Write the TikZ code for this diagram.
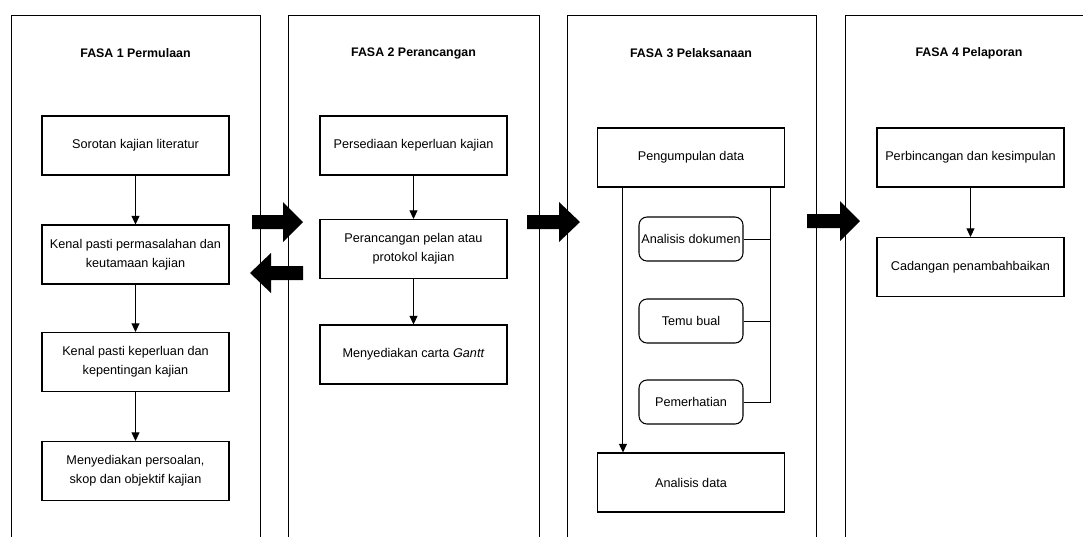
\documentclass[tikz,border=0pt]{standalone}
\usepackage{fontspec}
\setmainfont{Liberation Sans}
\usetikzlibrary{arrows.meta, positioning}

\begin{document}
\begin{tikzpicture}[x=0.75pt, y=-0.75pt, line width=0.75pt,
		>={Triangle[length=6.5pt,width=6pt]},
		every node/.style={font=\fontsize{9.5}{14}\selectfont},
		box/.style={draw, line width=0.8pt, minimum width=140.25pt, minimum height=44.25pt, align=center, inner sep=2pt},
		rbox/.style={draw, line width=0.8pt, rounded corners=6pt, minimum width=78pt, minimum height=33pt, inner sep=1pt},
		fasa/.style={font=\bfseries\fontsize{9.3}{11}\selectfont}]
		\useasboundingbox (0,0) rectangle (1083,537);
		
		% lajur fasa
		\draw (11,537) -- (11,15) -- (260,15) -- (260,537);
		\draw (288,537) -- (288,15) -- (539,15) -- (539,537);
		\draw (567,537) -- (567,15) -- (816,15) -- (816,537);
		\draw (845,537) -- (845,15) -- (1083,15);
		
		\draw (135.5,53) node[fasa] (f1) {FASA 1 Permulaan}
		(135.5,145.5) node[box] (m1) {Sorotan kajian literatur}
		(135.5,254.5) node[box] (m2) {Kenal pasti permasalahan dan\\keutamaan kajian}
		(135.5,362) node[box] (m3) {Kenal pasti keperluan dan\\kepentingan kajian}
		(135.5,471) node[box] (m4) {Menyediakan persoalan,\\skop dan objektif kajian};
		
		\draw (413.5,53) node[fasa] (f2) {FASA 2 Perancangan}
		(413.5,145.5) node[box] (r1) {Persediaan keperluan kajian}
		(413.5,249) node[box] (r2) {Perancangan pelan atau\\protokol kajian}
		(413.5,354.5) node[box] (r3) {Menyediakan carta \textit{Gantt}};
		
		\draw (691,53) node[fasa] (f3) {FASA 3 Pelaksanaan}
		(691,157.5) node[box] (l1) {Pengumpulan data}
		(691,239) node[rbox] (l2) {Analisis dokumen}
		(691,321) node[rbox] (l3) {Temu bual}
		(691,402) node[rbox] (l4) {Pemerhatian}
		(691,482.5) node[box] (l5) {Analisis data};
		
		\draw (969,53) node[fasa] (f4) {FASA 4 Pelaporan}
		(970.5,157.5) node[box] (p1) {Perbincangan dan kesimpulan}
		(970.5,267) node[box] (p2) {Cadangan penambahbaikan};
		
		\draw[->] (m1) -- (m2);
		\draw[->] (m2) -- (m3);
		\draw[->] (m3) -- (m4);
		\draw[->] (r1) -- (r2);
		\draw[->] (r2) -- (r3);
		\draw[->] (p1) -- (p2);
		
		\coordinate (bus) at (770,187);
		\draw (l1.south -| bus) |- (l4);
		\draw (l2) -- (l2 -| bus);
		\draw (l3) -- (l3 -| bus);
		\draw[->] ([xshift=19.5pt]l1.south west) -- ([xshift=19.5pt]l5.north west);
		
		% anak panah blok
		\fill (252,215) -- (283,215) -- (283,202) -- (303,222) -- (283,242) -- (283,229) -- (252,229) -- cycle;
		\fill (303,266) -- (271,266) -- (271,253) -- (250,273) -- (271,293) -- (271,280) -- (303,280) -- cycle;
		\fill (527,215) -- (559,215) -- (559,202) -- (580,222) -- (559,242) -- (559,229) -- (527,229) -- cycle;
		\fill (807,214) -- (840,214) -- (840,201) -- (860,221) -- (840,241) -- (840,228) -- (807,228) -- cycle;
	\end{tikzpicture}
\end{document}
